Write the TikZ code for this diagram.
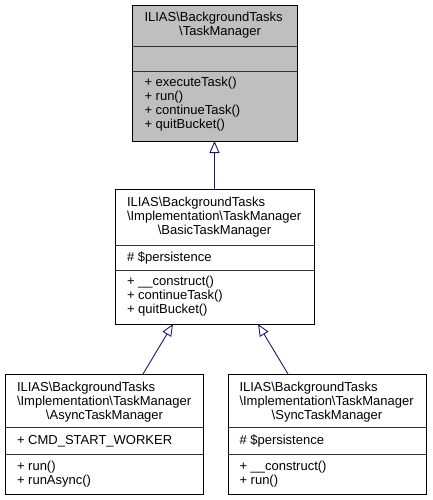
\documentclass[tikz,border=0pt]{standalone}
\usepackage{fontspec}
\setmainfont{Liberation Sans}
\usetikzlibrary{arrows.meta}
\definecolor{hdrgray}{HTML}{BFBFBF}
\definecolor{edgeblue}{HTML}{191970}
\newcommand{\bs}{\textbackslash}
\begin{document}
\begin{tikzpicture}[x=1pt,y=-1pt,
  classbox/.style={draw=black, line width=0.9pt, inner sep=0pt, outer sep=0pt},
  divline/.style={draw=black!80, line width=0.9pt},
  inh/.style={draw=edgeblue, line width=0.9pt, -{Triangle[open,length=12pt,width=10pt,line width=0.9pt]}},
  txt/.style={inner sep=0pt, outer sep=0pt, anchor=base west, font=\fontsize{13}{14}\selectfont},
  ctxt/.style={txt, anchor=base}]
\useasboundingbox (0,0) rectangle (432,500);

% ---------- TaskManager (top) ----------
\node[classbox, fill=hdrgray, minimum width=165pt, minimum height=136pt] (tm) at (214.5,73) {};
\draw[divline] (132,46) -- (297,46);
\draw[divline] (132,71) -- (297,71);
\node[txt]  (tm1) at (144.5,22) {ILIAS\bs BackgroundTasks};
\node[ctxt] (tm2) at (220,36) {\bs TaskManager};
\node[txt]  (tm3) at (144.5,86.5) {+ executeTask()};
\node[txt]  (tm4) at (144.5,100.5) {+ run()};
\node[txt]  (tm5) at (144.5,114.5) {+ continueTask()};
\node[txt]  (tm6) at (144.5,128.5) {+ quitBucket()};

% ---------- BasicTaskManager (middle) ----------
\node[classbox, fill=white, minimum width=199pt, minimum height=135pt] (btm) at (214.5,256.5) {};
\draw[divline] (115,245) -- (314,245);
\draw[divline] (115,270) -- (314,270);
\node[txt]  (b1) at (127,206) {ILIAS\bs BackgroundTasks};
\node[txt]  (b2) at (127,220) {\bs Implementation\bs TaskManager};
\node[ctxt] (b3) at (214.5,234) {\bs BasicTaskManager};
\node[txt]  (b4) at (127,261.5) {\# \$persistence};
\node[txt]  (b5) at (127,285.5) {+ \_\_construct()};
\node[txt]  (b6) at (127,299.5) {+ continueTask()};
\node[txt]  (b7) at (127,313.5) {+ quitBucket()};

% ---------- AsyncTaskManager (bottom left) ----------
\node[classbox, fill=white, minimum width=198pt, minimum height=120pt] (atm) at (104,434) {};
\draw[divline] (5,427) -- (203,427);
\draw[divline] (5,454) -- (203,454);
\node[txt]  (a1) at (17,391.5) {ILIAS\bs BackgroundTasks};
\node[txt]  (a2) at (17,405.5) {\bs Implementation\bs TaskManager};
\node[ctxt] (a3) at (104.5,419.5) {\bs AsyncTaskManager};
\node[txt]  (a4) at (17,444.5) {+ CMD\_START\_WORKER};
\node[txt]  (a5) at (17,470.5) {+ run()};
\node[txt]  (a6) at (17,484) {+ runAsync()};

% ---------- SyncTaskManager (bottom right) ----------
\node[classbox, fill=white, minimum width=198pt, minimum height=120pt] (stm) at (327,434) {};
\draw[divline] (228,427) -- (426,427);
\draw[divline] (228,454) -- (426,454);
\node[txt]  (s1) at (239.5,391.5) {ILIAS\bs BackgroundTasks};
\node[txt]  (s2) at (239.5,405.5) {\bs Implementation\bs TaskManager};
\node[ctxt] (s3) at (327,419.5) {\bs SyncTaskManager};
\node[txt]  (s4) at (239.5,444.5) {\# \$persistence};
\node[txt]  (s5) at (239.5,470.5) {+ \_\_construct()};
\node[txt]  (s6) at (239.5,484) {+ run()};

% ---------- inheritance connectors ----------
\coordinate (atmtop) at (143,374);
\coordinate (btmleft) at (173,324);
\coordinate (stmtop) at (288,374);
\coordinate (btmright) at (258,324);
\draw[inh] (btm.north) -- (tm.south);
\draw[inh] (atmtop) -- (btmleft);
\draw[inh] (stmtop) -- (btmright);
\end{tikzpicture}
\end{document}
